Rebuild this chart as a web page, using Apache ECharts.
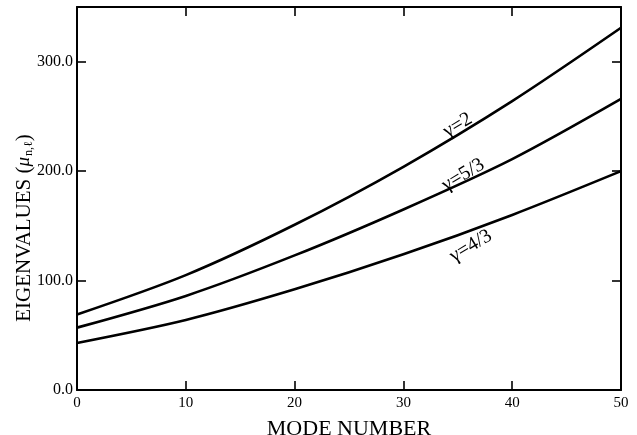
<!DOCTYPE html>
<html>
<head>
<meta charset="utf-8">
<script src="https://cdn.jsdelivr.net/npm/echarts@6/dist/echarts.min.js"></script>
<style>
html,body{margin:0;padding:0;background:#fff;}
#chart{width:637px;height:435px;}
</style>
</head>
<body>
<div id="chart"></div>
<script>
// Mode numbers (x) and eigenvalues for each gamma
const modeNumbers = [0, 10, 20, 30, 40, 50];
const gamma2 = [69, 105, 151, 204, 264, 331];
const gamma53 = [57, 86, 123, 165, 211, 266];
const gamma43 = [43, 64, 92, 124, 160, 200];
const xTicks = [0, 10, 20, 30, 40, 50];
const yTicks = [0, 100, 200, 300];
const curveLabels = ['γ=2', 'γ=5/3', 'γ=4/3'];
// label anchor positions in data units [mode number, eigenvalue]
const labelAnchors = [[35, 242], [35.5, 196.5], [36.2, 131.6]];

const FONT = '"Liberation Serif", "Times New Roman", serif';
const chart = echarts.init(document.getElementById('chart'), null, {renderer: 'canvas'});

function pairs(ys) { return modeNumbers.map((x, i) => [x, ys[i]]); }

function curve(name, ys, idx) {
  return {
    name: name,
    type: 'line',
    data: pairs(ys),
    smooth: 0.3,
    symbol: 'none',
    lineStyle: {color: '#000', width: 2.6},
    markPoint: {
      symbol: 'circle',
      symbolSize: 0,
      data: [{
        coord: labelAnchors[idx],
        label: {
          show: true,
          formatter: curveLabels[idx],
          rotate: 31,
          color: '#000',
          fontFamily: FONT,
          fontSize: 20,
          position: 'inside'
        }
      }]
    }
  };
}

const tickStyle = {show: true, inside: true, length: 9, lineStyle: {color: '#000', width: 1.6}};

const option = {
  backgroundColor: '#fff',
  animation: false,
  grid: {left: 77, right: 16, top: 7, bottom: 45, containLabel: false, outerBoundsMode: 'none'},
  xAxis: [{
    type: 'value', min: 0, max: 50, interval: 10,
    axisLine: {show: true, onZero: false, lineStyle: {color: '#000', width: 2}},
    axisTick: tickStyle,
    splitLine: {show: false},
    axisLabel: {color: '#000', fontFamily: FONT, fontSize: 15, margin: 6,
      formatter: v => xTicks.indexOf(v) >= 0 ? String(v) : ''},
    name: 'MODE NUMBER', nameLocation: 'middle', nameGap: 28,
    nameTextStyle: {color: '#000', fontFamily: FONT, fontSize: 22}
  }, {
    type: 'value', min: 0, max: 50, interval: 10, position: 'top',
    axisLine: {show: true, onZero: false, lineStyle: {color: '#000', width: 2}},
    axisTick: tickStyle, axisLabel: {show: false}, splitLine: {show: false}
  }],
  yAxis: [{
    type: 'value', min: 0, max: 350, interval: 100,
    axisLine: {show: true, onZero: false, lineStyle: {color: '#000', width: 2}},
    axisTick: tickStyle,
    splitLine: {show: false},
    axisLabel: {color: '#000', fontFamily: FONT, fontSize: 16, margin: 4,
      formatter: v => yTicks.indexOf(v) >= 0 ? v.toFixed(1) : ''}
  }, {
    type: 'value', min: 0, max: 350, interval: 100, position: 'right',
    axisLine: {show: true, onZero: false, lineStyle: {color: '#000', width: 2}},
    axisTick: tickStyle, axisLabel: {show: false}, splitLine: {show: false}
  }],
  graphic: [{
    type: 'text',
    x: 24, y: 228,
    rotation: Math.PI / 2,
    style: {
      text: 'EIGENVALUES ({mu|μ}{sub|n,ℓ})',
      fill: '#000',
      fontFamily: FONT,
      fontSize: 21,
      align: 'center',
      verticalAlign: 'middle',
      rich: {
        mu: {fontFamily: FONT, fontSize: 19, fontStyle: 'italic', fill: '#000'},
        sub: {fontFamily: FONT, fontSize: 12, fill: '#000', padding: [10, 0, 0, 1]}
      }
    }
  }],
  series: [
    curve('γ=2', gamma2, 0),
    curve('γ=5/3', gamma53, 1),
    curve('γ=4/3', gamma43, 2)
  ]
};
chart.setOption(option);
</script>
</body>
</html>
